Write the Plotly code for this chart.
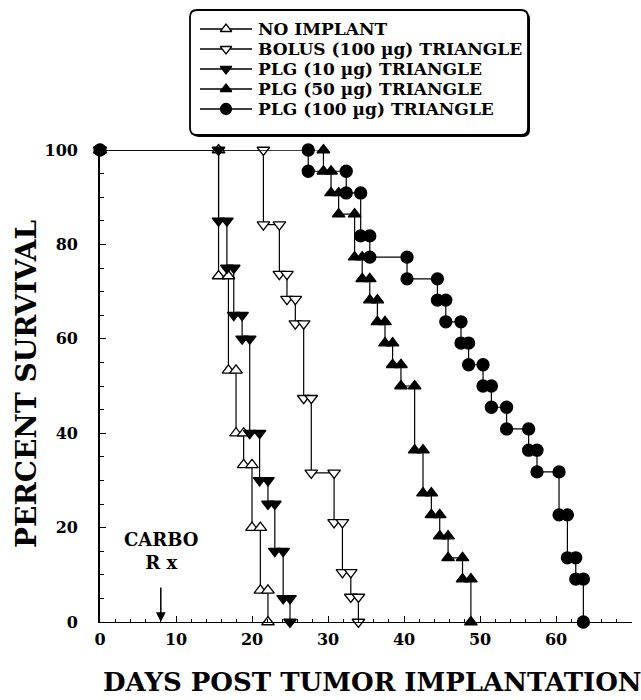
import plotly.graph_objects as go

# ---------------- data ----------------
series_names = ["NO IMPLANT", "BOLUS (100 µg) TRIANGLE", "PLG (10 µg) TRIANGLE",
                "PLG (50 µg) TRIANGLE", "PLG (100 µg) TRIANGLE"]

no_implant_days = [15.6, 16.9, 17.9, 18.9, 20.0, 21.1, 22.1]
no_implant_surv = [73.3, 53.3, 40.0, 33.3, 20.0, 6.7, 0]

bolus_days = [21.5, 23.6, 24.6, 25.7, 26.8, 27.8, 30.8, 31.9, 33.0, 34.0]
bolus_surv = [84.2, 73.7, 68.4, 63.2, 47.4, 31.6, 21.1, 10.5, 5.3, 0]

plg10_days = [15.6, 16.7, 17.6, 18.7, 19.7, 21.0, 22.1, 23.0, 24.1, 25.0]
plg10_surv = [85, 75, 65, 60, 40, 30, 25, 15, 5, 0]

plg50_days = [29.4, 30.4, 31.4, 33.5, 34.5, 35.5, 36.5, 37.5, 38.5, 39.6,
              41.4, 42.5, 43.6, 44.7, 45.8, 47.7, 48.8]
plg50_surv = [95.5, 90.9, 86.4, 77.3, 72.7, 68.2, 63.6, 59.1, 54.5, 50.0,
              36.4, 27.3, 22.7, 18.2, 13.6, 9.1, 0]

plg100_days = [27.4, 32.4, 34.3, 35.5, 40.4, 44.4, 45.5, 47.5, 48.5, 50.4,
               51.5, 53.5, 56.4, 57.5, 60.4, 61.5, 62.6, 63.6]
plg100_surv = [95.5, 90.9, 81.8, 77.3, 72.7, 68.2, 63.6, 59.1, 54.5, 50.0,
               45.5, 40.9, 36.4, 31.8, 22.7, 13.6, 9.1, 0]

x_ticks = [0, 10, 20, 30, 40, 50, 60, 70]
y_ticks = [0, 20, 40, 60, 80, 100]
carbo_day = 8

# ---------------- layout constants (pixels) ----------------
W, H = 641, 700
ML, MR, MB = 100, 9, 78
PLOT_TOP = 150                      # pixel row of the 100 % line
PAPER_H = H - MB                    # paper spans pixel rows 0 .. 622
PW = W - ML - MR
X_MAX, Y_MAX = 70, 100
MAIN_DOMAIN_TOP = (PAPER_H - PLOT_TOP) / PAPER_H

def px_to_paper_x(px):
    return (px - ML) / PW

def py_to_paper_y(py):
    return (PAPER_H - py) / PAPER_H

def py_to_data_y(py):
    return (PAPER_H - py) / (PAPER_H - PLOT_TOP) * Y_MAX

# ---------------- helpers ----------------
def staircase(days, surv, start=100):
    xs, ys = [0, days[0]], [start, start]
    prev = start
    for i, (d, s) in enumerate(zip(days, surv)):
        if i > 0:
            xs.append(d)
            ys.append(prev)
        xs.append(d)
        ys.append(s)
        prev = s
    return xs, ys

FONT = "DejaVu Serif"

styles = [
    dict(symbol="triangle-up", color="white", size=11),
    dict(symbol="triangle-down", color="white", size=11),
    dict(symbol="triangle-down", color="black", size=11),
    dict(symbol="triangle-up", color="black", size=11),
    dict(symbol="circle", color="black", size=12),
]
data = [
    (no_implant_days, no_implant_surv),
    (bolus_days, bolus_surv),
    (plg10_days, plg10_surv),
    (plg50_days, plg50_surv),
    (plg100_days, plg100_surv),
]

fig = go.Figure()
for name, (d, s), st in zip(series_names, data, styles):
    xs, ys = staircase(d, s)
    fig.add_trace(go.Scatter(
        x=xs, y=ys, name=name, mode="lines+markers",
        line=dict(color="black", width=1.2),
        marker=dict(symbol=st["symbol"], size=st["size"], color=st["color"],
                    line=dict(color="black", width=1.3)),
        cliponaxis=False, showlegend=False, xaxis="x", yaxis="y",
    ))

# ---------------- hand-built legend (own pixel-unit axes in the top band) ----------------
LG_L, LG_R, LG_T, LG_B = 190, 528, 10, 135
ROW0, ROW_GAP = 29, 20
KEY_L, KEY_R, TEXT_X = 200, 252, 256
R = 7  # corner radius, px

def rounded_rect_path(l, r, t, b, rad):
    X = px_to_paper_x
    Y = py_to_paper_y
    return (f"M {X(l + rad)},{Y(t)} L {X(r - rad)},{Y(t)} Q {X(r)},{Y(t)} {X(r)},{Y(t + rad)} "
            f"L {X(r)},{Y(b - rad)} Q {X(r)},{Y(b)} {X(r - rad)},{Y(b)} "
            f"L {X(l + rad)},{Y(b)} Q {X(l)},{Y(b)} {X(l)},{Y(b - rad)} "
            f"L {X(l)},{Y(t + rad)} Q {X(l)},{Y(t)} {X(l + rad)},{Y(t)} Z")

fig.add_shape(type="path", xref="paper", yref="paper",
              path=rounded_rect_path(LG_L + 2, LG_R + 2, LG_T + 2, LG_B + 2, R),
              fillcolor="black", line=dict(width=0), layer="below")
fig.add_shape(type="path", xref="paper", yref="paper",
              path=rounded_rect_path(LG_L, LG_R, LG_T, LG_B, R),
              fillcolor="white", line=dict(color="black", width=1.8), layer="below")

for i, (name, st) in enumerate(zip(series_names, styles)):
    row_y = ROW0 + i * ROW_GAP
    fig.add_trace(go.Scatter(
        x=[KEY_L, KEY_R], y=[row_y, row_y], mode="lines",
        line=dict(color="black", width=1.3),
        showlegend=False, hoverinfo="skip", xaxis="x2", yaxis="y2",
    ))
    fig.add_trace(go.Scatter(
        x=[(KEY_L + KEY_R) / 2], y=[row_y], mode="markers",
        marker=dict(symbol=st["symbol"], size=st["size"] - 1, color=st["color"],
                    line=dict(color="black", width=1.3)),
        showlegend=False, hoverinfo="skip", xaxis="x2", yaxis="y2",
    ))
    fig.add_annotation(text=name, xref="paper", yref="paper",
                       x=px_to_paper_x(TEXT_X), y=py_to_paper_y(row_y),
                       xanchor="left", yanchor="middle", showarrow=False,
                       font=dict(family=FONT, size=17, weight="bold"))

fig.update_layout(
    width=W, height=H,
    margin=dict(l=ML, r=MR, t=0, b=MB),
    paper_bgcolor="white", plot_bgcolor="rgba(0,0,0,0)",
    font=dict(family=FONT, color="black", size=16, weight="bold"),
    showlegend=False,
    xaxis=dict(
        range=[0, X_MAX], tickvals=x_ticks, ticks="inside", ticklen=6, tickwidth=1,
        tickcolor="black", showline=True, linecolor="black", linewidth=1,
        showgrid=False, zeroline=False, automargin=False, ticklabelstandoff=3,
        minor=dict(dtick=2, ticks="inside", ticklen=3, tickcolor="black"),
        tickfont=dict(family=FONT, size=16, weight="bold"), anchor="y",
    ),
    yaxis=dict(
        domain=[0, MAIN_DOMAIN_TOP],
        range=[0, Y_MAX], tickvals=y_ticks, ticks="inside", ticklen=6, tickwidth=1,
        tickcolor="black", showline=True, linecolor="black", linewidth=1.6,
        showgrid=False, zeroline=False, ticklabelstandoff=17, automargin=False,
        minor=dict(dtick=5, ticks="inside", ticklen=4, tickcolor="black"),
        tickfont=dict(family=FONT, size=16, weight="bold"), anchor="x",
    ),
    xaxis2=dict(domain=[0, 1], range=[ML, W - MR], visible=False, anchor="y2",
                fixedrange=True),
    yaxis2=dict(domain=[MAIN_DOMAIN_TOP, 1], range=[PLOT_TOP, 0], visible=False,
                anchor="x2", fixedrange=True),
)

fig.add_annotation(
    text="DAYS POST TUMOR IMPLANTATION", xref="paper", yref="paper",
    x=px_to_paper_x(372), y=py_to_paper_y(682), xanchor="center", yanchor="middle",
    showarrow=False, font=dict(family=FONT, size=26, weight="bold"),
)
fig.add_annotation(
    text="PERCENT SURVIVAL", xref="paper", yref="paper", textangle=-90,
    x=px_to_paper_x(26), y=py_to_paper_y(384), xanchor="center", yanchor="middle",
    showarrow=False, font=dict(family=FONT, size=28, weight="bold"),
)
fig.add_annotation(
    text="CARBO<br>R x", x=carbo_day, y=py_to_data_y(551), xref="x", yref="y",
    showarrow=False, font=dict(family=FONT, size=18, weight="bold"),
    xanchor="center", yanchor="middle",
)
fig.add_annotation(
    x=carbo_day, y=0, ax=carbo_day, ay=py_to_data_y(586), xref="x", yref="y",
    axref="x", ayref="y",
    showarrow=True, arrowhead=2, arrowsize=1.3, arrowwidth=1.5, arrowcolor="black", text="",
)

fig.write_html(
    "out.html",
    config={"displayModeBar": False},
    post_script="document.body.style.margin='0px';document.body.style.overflow='hidden';",
)
